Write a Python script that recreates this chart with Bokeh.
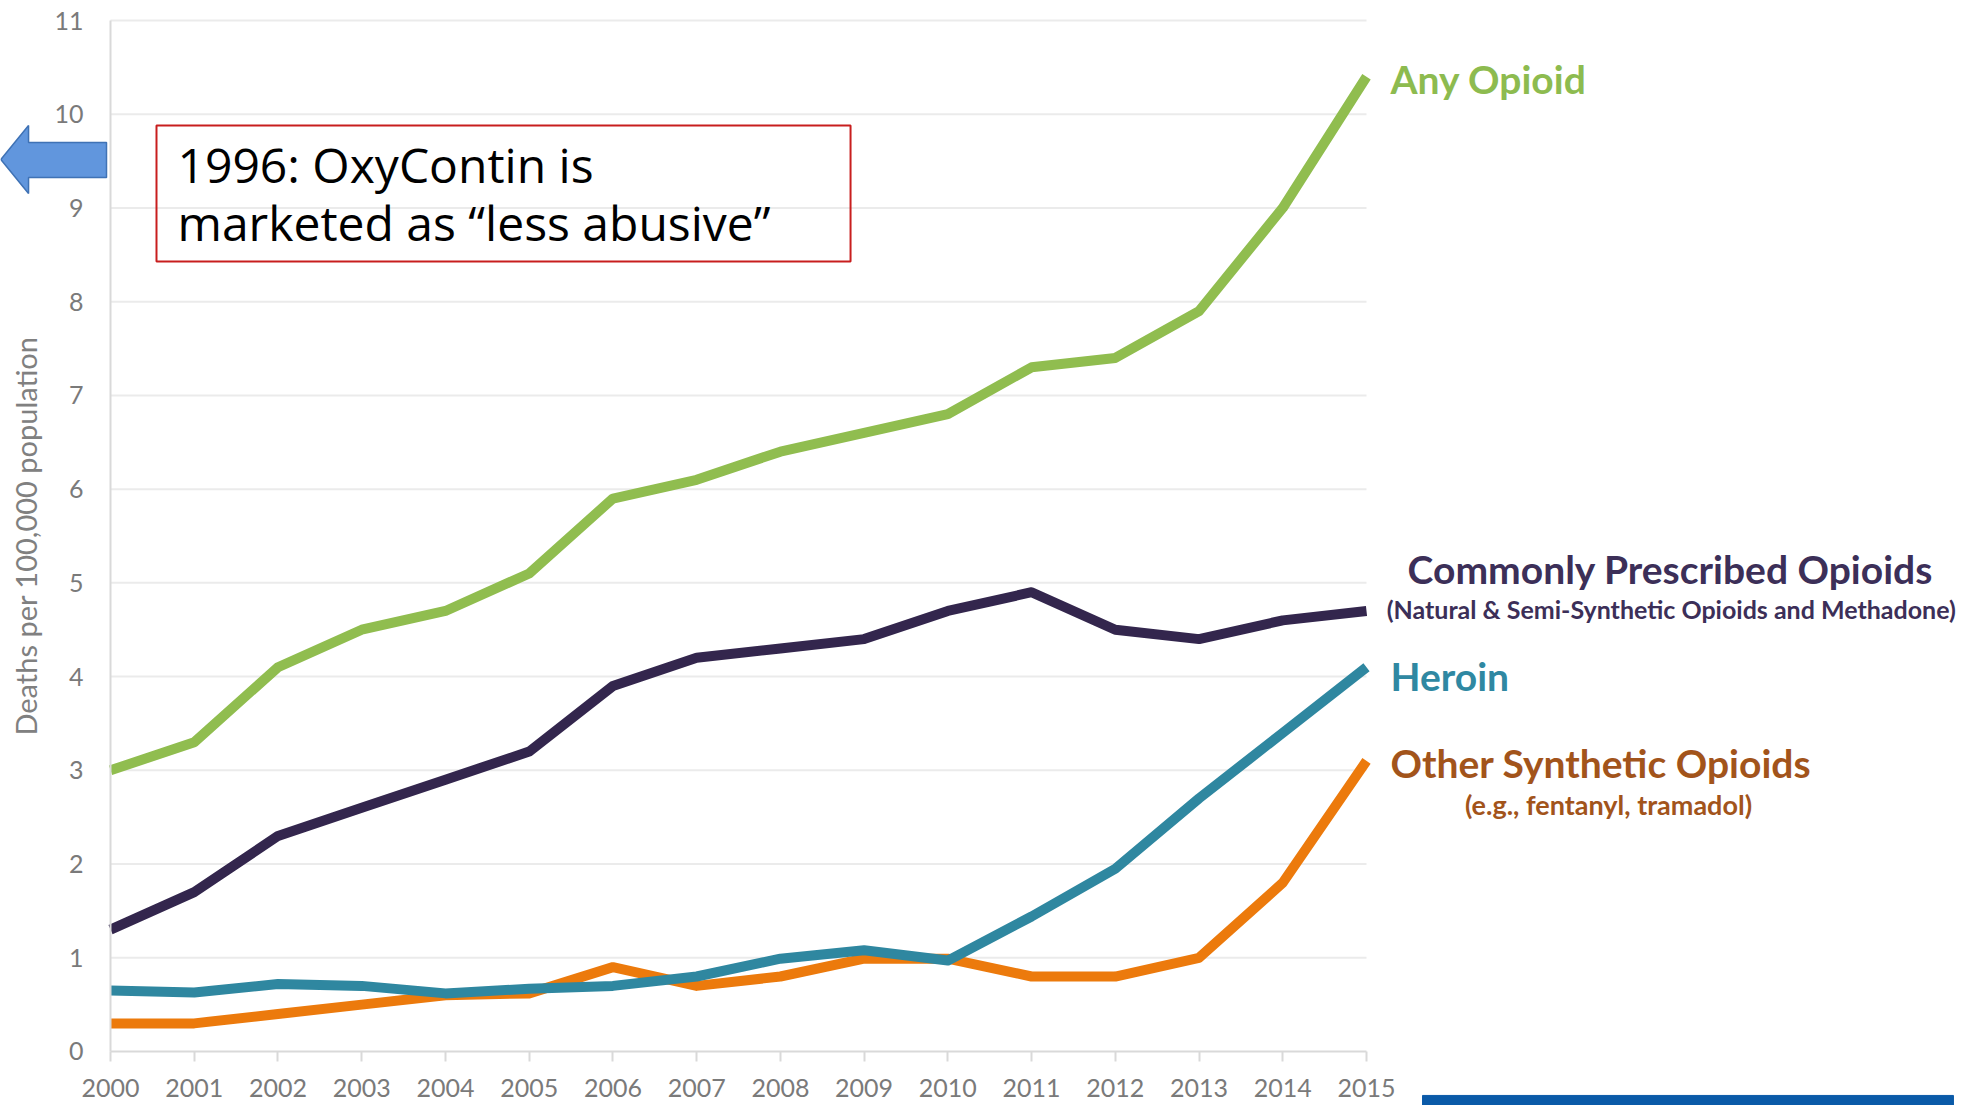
from bokeh.plotting import figure
from bokeh.models import Range1d, LinearAxis, FixedTicker
from bokeh.core.properties import value
from bokeh.embed import file_html
from bokeh.resources import INLINE

# ---------------- data ----------------
years = list(range(2000, 2016))
any_opioid = [3.0, 3.3, 4.1, 4.5, 4.7, 5.1, 5.9, 6.1, 6.4, 6.6, 6.8, 7.3, 7.4, 7.9, 9.0, 10.4]
commonly_prescribed = [1.3, 1.7, 2.3, 2.6, 2.9, 3.2, 3.9, 4.2, 4.3, 4.4, 4.7, 4.9, 4.5, 4.4, 4.6, 4.7]
heroin = [0.65, 0.63, 0.72, 0.70, 0.62, 0.67, 0.70, 0.80, 0.99, 1.08, 0.97, 1.44, 1.95, 2.7, 3.4, 4.1]
other_synthetic = [0.3, 0.3, 0.4, 0.5, 0.6, 0.62, 0.9, 0.7, 0.8, 0.99, 0.99, 0.8, 0.8, 1.0, 1.8, 3.1]
y_ticks = list(range(0, 12))
x_ticks = years

series_titles = ["Any Opioid", "Commonly Prescribed Opioids", "Heroin", "Other Synthetic Opioids"]
series_notes = ["(Natural & Semi-Synthetic Opioids and Methadone)", "(e.g., fentanyl, tramadol)"]
note_text = ["1996: OxyContin is", "marketed as \u201cless abusive\u201d"]
y_label = "Deaths per 100,000 population"

# ---------------- styles ----------------
C_GREEN = "#90bd4f"
C_GREEN_T = "#8dbb4f"
C_PURPLE = "#33264d"
C_PURPLE_T = "#3c2f58"
C_TEAL = "#2f87a0"
C_TEAL_T = "#2f88a2"
C_ORANGE = "#ec7a0c"
C_ORANGE_T = "#a2541b"
GRID = "#ebebeb"
AXIS = "#d9d9d9"
TICK_TXT = "#7a7a7a"

p = figure(width=1978, height=1105, output_backend="svg", toolbar_location=None,
           x_axis_type=None, y_axis_type=None,
           x_range=Range1d(1998.686, 2022.309), y_range=Range1d(-0.5762, 11.2134),
           min_border=0)
p.outline_line_color = None
p.background_fill_color = "white"
p.border_fill_color = "white"

# grid lines (limited to the plotted years)
gy = y_ticks[1:]
p.segment(x0=[years[0]] * len(gy), x1=[years[-1]] * len(gy), y0=gy, y1=gy,
          line_color=GRID, line_width=2)

# axes
yax = LinearAxis(ticker=FixedTicker(ticks=y_ticks), fixed_location=years[0], bounds=(0, 11))
yax.axis_line_color = AXIS
yax.axis_line_width = 2
yax.major_tick_out = 0
yax.major_tick_in = 0
yax.minor_tick_out = 0
yax.major_label_standoff = 27
yax.major_label_text_font = "Lato"
yax.major_label_text_font_size = "25px"
yax.major_label_text_color = TICK_TXT
yax.axis_label = y_label
yax.axis_label_text_font = "Lato"
yax.axis_label_text_font_size = "29px"
yax.axis_label_text_font_style = "normal"
yax.axis_label_text_color = "#808080"
yax.axis_label_standoff = 8
p.add_layout(yax, "left")

xax = LinearAxis(ticker=FixedTicker(ticks=x_ticks), fixed_location=0, bounds=(years[0], years[-1]))
xax.axis_line_color = AXIS
xax.axis_line_width = 2
xax.major_tick_out = 10
xax.major_tick_in = 0
xax.minor_tick_out = 0
xax.major_tick_line_color = AXIS
xax.major_tick_line_width = 2
xax.major_label_standoff = 18
xax.major_label_text_font = "Lato"
xax.major_label_text_font_size = "25px"
xax.major_label_text_color = TICK_TXT
p.add_layout(xax, "below")

# series lines
LW = 10
p.line(years, other_synthetic, line_color=C_ORANGE, line_width=LW, line_join="round")
p.line(years, heroin, line_color=C_TEAL, line_width=LW, line_join="round")
p.line(years, commonly_prescribed, line_color=C_PURPLE, line_width=LW, line_join="round")
p.line(years, any_opioid, line_color=C_GREEN, line_width=LW, line_join="round")

# series labels
lx = years[-1] + 0.287
p.text(x=[lx], y=[any_opioid[-1] - 0.02], text=[series_titles[0]], text_font=value("Lato"),
       text_font_size="39px", text_font_style="bold", text_color=C_GREEN_T,
       text_align="left", text_baseline="middle")
p.text(x=[2018.63], y=[commonly_prescribed[-1] + 0.45], text=[series_titles[1]], text_font=value("Lato"),
       text_font_size="39px", text_font_style="bold", text_color=C_PURPLE_T,
       text_align="center", text_baseline="middle")
p.text(x=[2018.64], y=[commonly_prescribed[-1] + 0.02], text=[series_notes[0]], text_font=value("Lato"),
       text_font_size="25px", text_font_style="bold", text_color=C_PURPLE_T,
       text_align="center", text_baseline="middle")
p.text(x=[lx], y=[heroin[-1] - 0.09], text=[series_titles[2]], text_font=value("Lato"),
       text_font_size="39px", text_font_style="bold", text_color=C_TEAL_T,
       text_align="left", text_baseline="middle")
p.text(x=[lx], y=[other_synthetic[-1] - 0.02], text=[series_titles[3]], text_font=value("Lato"),
       text_font_size="39px", text_font_style="bold", text_color=C_ORANGE_T,
       text_align="left", text_baseline="middle")
p.text(x=[2017.89], y=[other_synthetic[-1] - 0.465], text=[series_notes[1]], text_font=value("Lato"),
       text_font_size="27px", text_font_style="bold", text_color=C_ORANGE_T,
       text_align="center", text_baseline="middle")

# annotation box and arrow
p.quad(left=[2000.549], right=[2008.838], top=[9.880], bottom=[8.429],
       fill_color=None, line_color="#c81e1e", line_width=2)
p.text(x=[2000.80, 2000.80], y=[9.465, 8.846], text=note_text, text_font=value("Open Sans"),
       text_font_size="48px", text_color="black", text_align="left", text_baseline="middle")

arrow_x = [1998.690, 1999.021, 1999.021, 1999.952, 1999.952, 1999.021, 1999.021]
arrow_y = [9.517, 9.880, 9.698, 9.698, 9.325, 9.325, 9.154]
p.patch(arrow_x, arrow_y, fill_color="#6196dd", line_color="#3f72b5", line_width=1.5)

# partially visible button at the bottom right
p.quad(left=[2015.669], right=[2022.010], top=[-0.469], bottom=[-0.8],
       fill_color="#0a5aa8", line_color="#0a5aa8")

open("out.html", "w").write(file_html(p, INLINE))
